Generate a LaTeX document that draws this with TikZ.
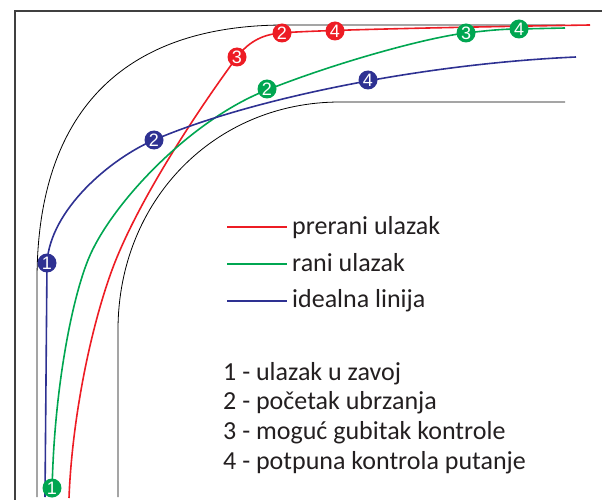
\documentclass[tikz,border=0pt]{standalone}
\usepackage{fontspec}
\setmainfont{Carlito}
\newfontfamily\markfont{Liberation Sans}
\definecolor{cred}{HTML}{ED1C24}
\definecolor{cgreen}{HTML}{00A651}
\definecolor{cblue}{HTML}{2E3192}
\definecolor{ctext}{HTML}{231F20}
\definecolor{cframe}{HTML}{404040}
\begin{document}
\begin{tikzpicture}[x=1pt,y=-1pt,
  edge/.style={black,line width=0.8pt},
  track/.style={line width=1.6pt},
  mk/.style={circle,inner sep=0pt,minimum size=19pt,text=white,font=\markfont\fontsize{18}{18}\selectfont},
  legtext/.style={anchor=base west,text=ctext,inner sep=0pt,font=\fontsize{26}{30}\selectfont}]
\useasboundingbox (0,0) rectangle (602,500);
% frame
\draw[cframe,line width=1.4pt] (15,500) -- (15,11) -- (602,11);
% road edges
\draw[edge] (37,497) -- (37,280) .. controls (37,115) and (120,25) .. (285,25) -- (565,25);
\draw[edge] (118,497) -- (118,330) .. controls (118,200) and (215,102) .. (340,102) -- (565,102);
% tracks
\draw[track,cred] (69,498) .. controls (72,420) and (90,330) .. (112,270)
  .. controls (134,210) and (187,125) .. (237,57)
  .. controls (250,40) and (265,34) .. (282,33)
  .. controls (300,31) and (400,28) .. (590,25);
\draw[track,cgreen] (52,497) .. controls (53,400) and (70,305) .. (88,260)
  .. controls (110,205) and (190,120) .. (267,90)
  .. controls (340,61) and (430,37) .. (466,33)
  .. controls (484,31) and (500,29) .. (519,29) -- (565,28);
\draw[track,cblue] (45,497) -- (47,263)
  .. controls (50,210) and (110,159) .. (154,140)
  .. controls (250,99) and (420,64) .. (576,57);
% markers
\node[mk,fill=cred] (r3) at (237,57) {3};
\node[mk,fill=cred] (r2) at (282,33) {2};
\node[mk,fill=cred] (r4) at (335,31) {4};
\node[mk,fill=cgreen] (g1) at (52,488) {1};
\node[mk,fill=cgreen] (g2) at (267,89) {2};
\node[mk,fill=cgreen] (g3) at (466,33) {3};
\node[mk,fill=cgreen] (g4) at (519,29) {4};
\node[mk,fill=cblue] (b1) at (47,263) {1};
\node[mk,fill=cblue] (b2) at (154,140) {2};
\node[mk,fill=cblue] (b4) at (368,80) {4};
% legend
\coordinate (lr1) at (227,227); \coordinate (lr2) at (287,227);
\coordinate (lg1) at (227,264); \coordinate (lg2) at (287,264);
\coordinate (lb1) at (227,301); \coordinate (lb2) at (287,301);
\draw[cred,line width=1.4pt] (lr1) -- (lr2);
\draw[cgreen,line width=1.4pt] (lg1) -- (lg2);
\draw[cblue,line width=1.4pt] (lb1) -- (lb2);
\node[legtext] (t1) at (292,234) {prerani ulazak};
\node[legtext] (t2) at (292,271) {rani ulazak};
\node[legtext] (t3) at (292,307) {idealna linija};
\node[legtext] (k1) at (223,380) {1 - ulazak u zavoj};
\node[legtext] (k2) at (223,409.5) {2 - početak ubrzanja};
\node[legtext] (k3) at (223,439) {3 - moguć gubitak kontrole};
\node[legtext] (k4) at (223,469) {4 - potpuna kontrola putanje};
\end{tikzpicture}
\end{document}
